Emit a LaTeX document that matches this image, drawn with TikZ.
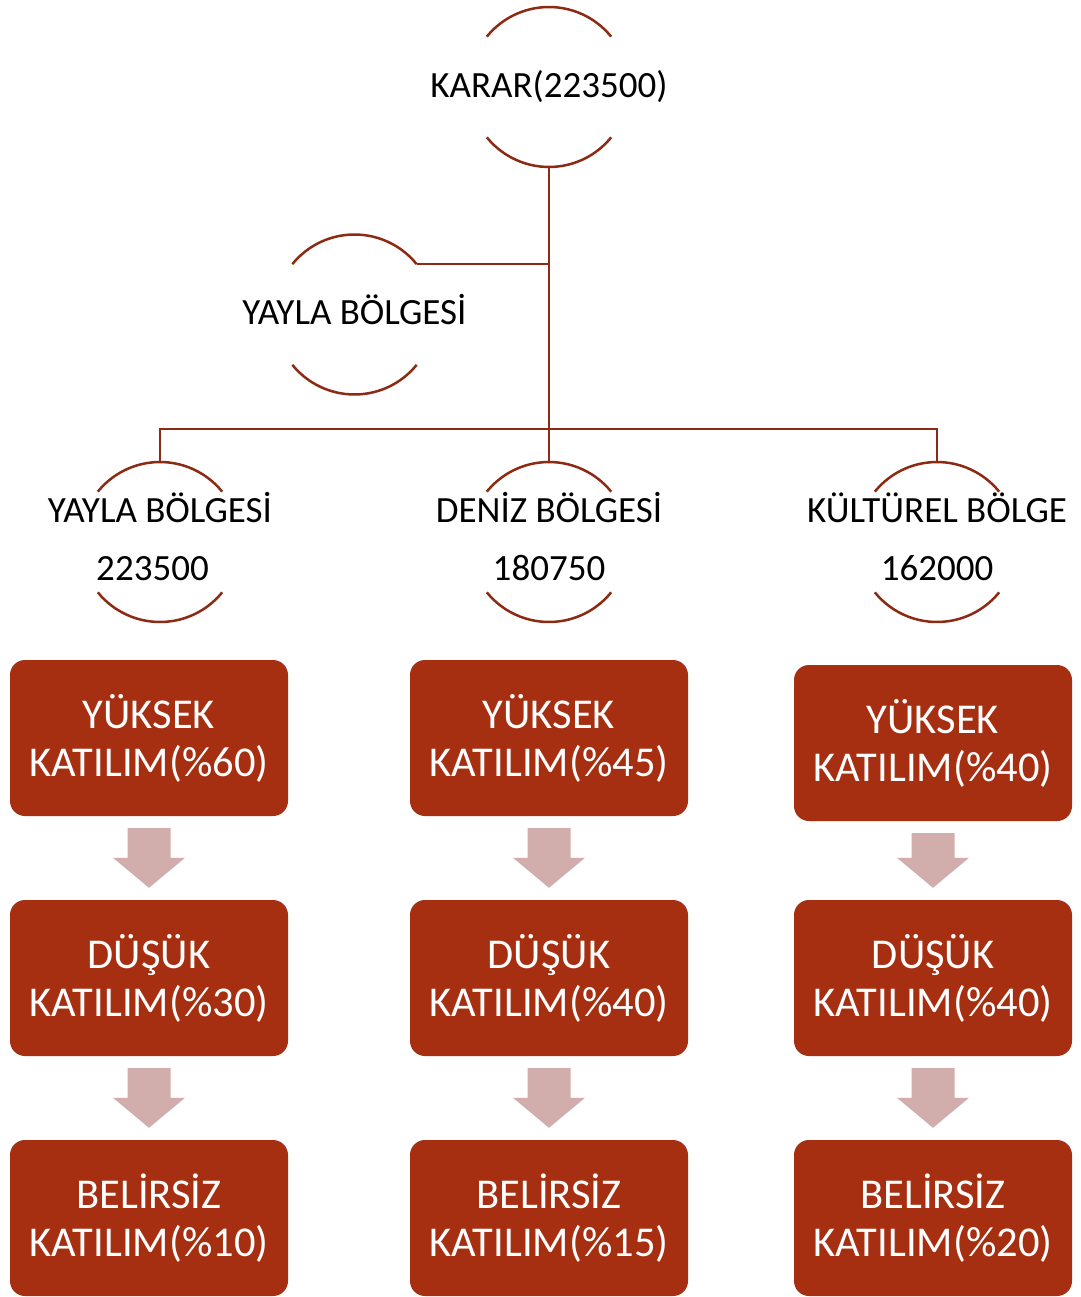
\documentclass[tikz,border=0pt]{standalone}
\usepackage{fontspec}
\setmainfont{Carlito}
\usetikzlibrary{calc}
\definecolor{boxred}{RGB}{166,47,17}
\definecolor{linered}{RGB}{140,42,20}
\definecolor{arrowpink}{RGB}{209,174,172}
\newcommand\ringarcs[1]{%
  \draw[arcline] (#1.39) arc[start angle=39,end angle=141,radius=80pt];
  \draw[arcline] (#1.219) arc[start angle=219,end angle=321,radius=80pt];}
\newcommand\flowarrow[2]{%
  \fill[flow] ($(#1.south)+(-21.5,12)$) -- ($(#1.south)+(21.5,12)$)
    -- ($(#2.north)+(21.5,-42)$) -- ($(#2.north)+(36,-42)$)
    -- ($(#2.north)+(0,-12)$) -- ($(#2.north)+(-36,-42)$)
    -- ($(#2.north)+(-21.5,-42)$) -- cycle;}
\begin{document}
\begin{tikzpicture}[x=1pt,y=-1pt,
  ring/.style={circle, minimum size=160pt, inner sep=0pt, outer sep=0pt},
  lbl/.style={font=\fontsize{37}{58}\selectfont, align=center, inner sep=0pt, text=black},
  stage/.style={rectangle, rounded corners=15pt, fill=boxred, text=white,
    minimum width=278pt, minimum height=156pt, inner sep=0pt, align=center,
    font=\fontsize{42.5}{48}\selectfont},
  arcline/.style={draw=linered, line width=2.5pt},
  conn/.style={draw=linered, line width=2.5pt},
  flow/.style={fill=arrowpink}]

\useasboundingbox (0,0) rectangle (1080,1297);
\fill[white] (0,0) rectangle (1080,1297);

% ring nodes
\node[ring] (karar) at (549,87) {};
\node[ring] (yaylatop) at (354.5,314.5) {};
\node[ring] (yayla) at (160,542) {};
\node[ring] (deniz) at (549,542) {};
\node[ring] (kultur) at (937,542) {};

\ringarcs{karar}
\ringarcs{yaylatop}
\ringarcs{yayla}
\ringarcs{deniz}
\ringarcs{kultur}

% labels
\node[lbl] (karart) at (karar.center) {KARAR(223500)};
\node[lbl] (yaylatopt) at ($(yaylatop.center)+(0,-5)$) {YAYLA BÖLGESİ};
\node[lbl] (yaylat) at ($(yayla.center)+(0,-5)$) {YAYLA BÖLGESİ\\223500\kern15pt\null};
\node[lbl] (denizt) at ($(deniz.center)+(0,-5)$) {DENİZ BÖLGESİ\\180750};
\node[lbl] (kulturt) at ($(kultur.center)+(0,-5)$) {KÜLTÜREL BÖLGE\\162000};

% connectors
\coordinate (bus) at ($(karar.south)+(0,262)$);
\draw[conn] (karar.south) -- (deniz.north);
\draw[conn] (yaylatop.39) -- (yaylatop.39 -| karar.south);
\draw[conn] (yayla.north) |- (bus) -| (kultur.north);

% stage boxes
\node[stage] (y1) at (149,738) {YÜKSEK\\KATILIM(\%60)};
\node[stage] (y2) at (149,978) {DÜŞÜK\\KATILIM(\%30)};
\node[stage] (y3) at (149,1218) {BELİRSİZ\\KATILIM(\%10)};
\node[stage] (d1) at (549,738) {YÜKSEK\\KATILIM(\%45)};
\node[stage] (d2) at (549,978) {DÜŞÜK\\KATILIM(\%40)};
\node[stage] (d3) at (549,1218) {BELİRSİZ\\KATILIM(\%15)};
\node[stage] (k1) at (933,743) {YÜKSEK\\KATILIM(\%40)};
\node[stage] (k2) at (933,978) {DÜŞÜK\\KATILIM(\%40)};
\node[stage] (k3) at (933,1218) {BELİRSİZ\\KATILIM(\%20)};

\flowarrow{y1}{y2}
\flowarrow{y2}{y3}
\flowarrow{d1}{d2}
\flowarrow{d2}{d3}
\flowarrow{k1}{k2}
\flowarrow{k2}{k3}
\end{tikzpicture}
\end{document}
